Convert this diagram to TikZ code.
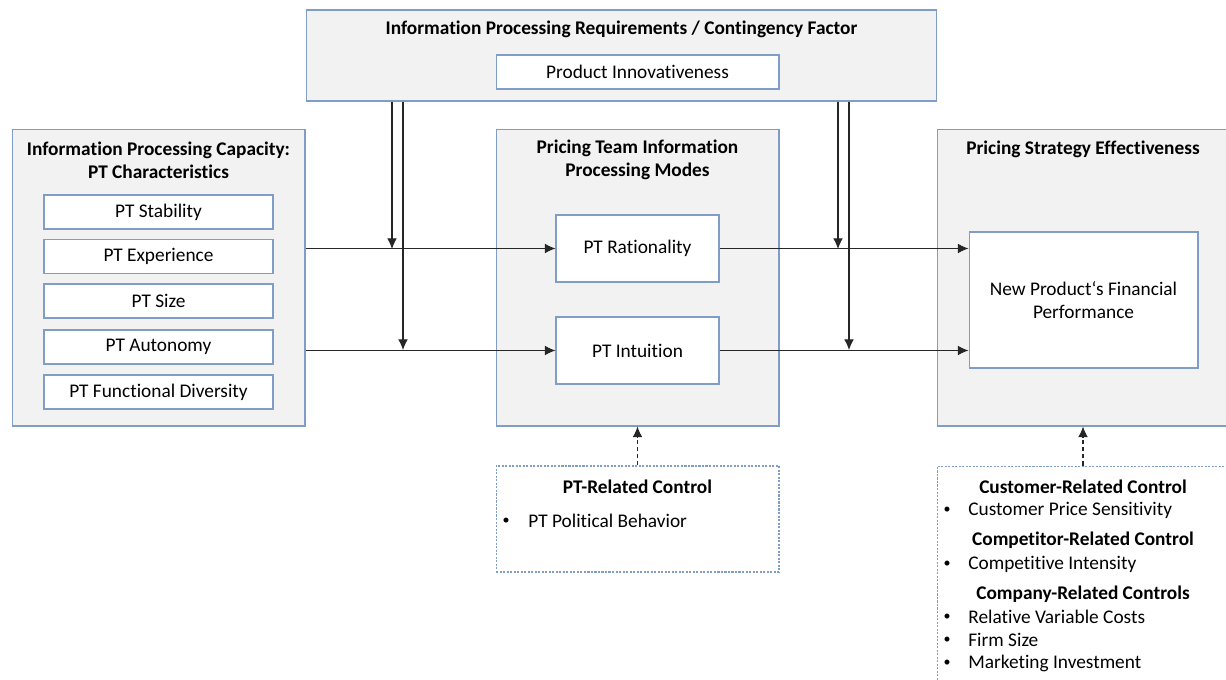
\documentclass[tikz,border=0pt]{standalone}
\usepackage{fontspec}
\setmainfont{Carlito}[Ligatures=NoCommon]
\usetikzlibrary{arrows.meta}

\definecolor{kaderblauw}{RGB}{127,157,198}
\definecolor{kadergrijs}{RGB}{242,242,242}

\begin{document}
\begin{tikzpicture}[x=0.02cm, y=-0.02cm, >={Latex[length=6pt,width=5.5pt]}]

% --- Stijlen ---
\tikzset{
    kader/.style={
        draw=kaderblauw,
        fill=kadergrijs,
        line width=0.6pt,
        inner sep=0pt
    },
    vak/.style={
        draw=kaderblauw,
        fill=white,
        line width=0.6pt,
        inner sep=0pt,
        align=center,
        font=\fontsize{11}{13}\selectfont
    },
    stipkader/.style={
        draw=kaderblauw,
        fill=white,
        line width=0.6pt,
        dash pattern=on 1.2pt off 0.8pt,
        inner sep=0pt
    },
    kop/.style={
        font=\fontsize{11}{13}\selectfont\bfseries,
        align=center,
        inner sep=0pt
    },
    tekst/.style={
        font=\fontsize{11}{13}\selectfont,
        anchor=west,
        inner sep=0pt
    },
    punt/.style={
        font=\fontsize{8}{10}\selectfont,
        inner sep=0pt
    },
    pijl/.style={
        ->,
        line width=0.6pt,
        draw=black!85
    },
    stippijl/.style={
        ->,
        line width=0.6pt,
        draw=black!85,
        dash pattern=on 2.5pt off 1.5pt
    }
}

\useasboundingbox (0,0) rectangle (1226,679);
\clip (0,0) rectangle (1226,679);

% --- Contingentiefactor ---
\node[kader, minimum width=12.62cm, minimum height=1.82cm] (eis) at (621.5,55.5) {};
\node[kop] (eiskop) at (621.5,29) {Information Processing Requirements / Contingency Factor};
\node[vak, minimum width=5.66cm, minimum height=0.68cm] (innov) at (637.5,72) {Product Innovativeness};

% --- Capaciteit ---
\node[kader, minimum width=5.86cm, minimum height=5.94cm] (cap) at (158.5,277.5) {};
\node[kop] (capkop) at (158.5,160) {Information Processing Capacity:\\PT Characteristics};
\node[vak, minimum width=4.58cm, minimum height=0.68cm] (stab) at (158.5,212)   {PT Stability};
\node[vak, minimum width=4.58cm, minimum height=0.68cm] (erv)  at (158.5,256.5) {PT Experience};
\node[vak, minimum width=4.58cm, minimum height=0.68cm] (omv)  at (158.5,301)   {PT Size};
\node[vak, minimum width=4.58cm, minimum height=0.68cm] (aut)  at (158.5,347)   {PT Autonomy};
\node[vak, minimum width=4.58cm, minimum height=0.68cm] (div)  at (158.5,392)   {PT Functional Diversity};

% --- Verwerkingsmodi ---
\node[kader, minimum width=5.66cm, minimum height=5.94cm] (modi) at (637.5,277.5) {};
\node[kop] (modikop) at (637.5,160) {Pricing Team Information\\Processing Modes};
\node[vak, minimum width=3.26cm, minimum height=1.34cm] (rat) at (637.5,248.5) {PT Rationality};
\node[vak, minimum width=3.26cm, minimum height=1.34cm] (int) at (637.5,350.5) {PT Intuition};

% --- Effectiviteit ---
\node[kader, minimum width=5.84cm, minimum height=5.94cm] (eff) at (1083,277.5) {};
\node[kop] (effkop) at (1083,149) {Pricing Strategy Effectiveness};
\node[vak, minimum width=4.58cm, minimum height=2.72cm] (fin) at (1083.5,300) {New Product‘s Financial\\Performance};

% --- Controles ---
\node[stipkader, minimum width=5.66cm, minimum height=2.12cm] (ptc) at (637.5,519) {};
\node[kop] (ptckop) at (637.5,487) {PT-Related Control};
\node[punt] at (506,521) {•};
\node[tekst] (pol) at (528,521) {PT Political Behavior};

\node[stipkader, minimum width=5.84cm, minimum height=4.68cm] (mkt) at (1083,583) {};
\node[kop] (klant) at (1083,487) {Customer-Related Control};
\node[kop] (conc)  at (1083,540) {Competitor-Related Control};
\node[kop] (bedr)  at (1083,594) {Company-Related Controls};
\foreach \y/\t in {510/Customer Price Sensitivity, 564/Competitive Intensity,
                   617/Relative Variable Costs, 640/Firm Size, 663/Marketing Investment} {
    \node[punt] at (947,\y) {•};
    \node[tekst] at (968,\y) {\t};
}

% --- Kruispunten ---
\coordinate (k1) at (392,249);
\coordinate (k2) at (403,350);
\coordinate (k3) at (838,249);
\coordinate (k4) at (849,350);

% --- Pijlen ---
\draw[pijl] (cap.east |- rat) -- (rat.west);
\draw[pijl] (cap.east |- int) -- (int.west);
\draw[pijl] (rat.east) -- (rat.east -| fin.west);
\draw[pijl] (int.east) -- (int.east -| fin.west);
\draw[pijl] (eis.south -| k1) -- (k1);
\draw[pijl] (eis.south -| k2) -- (k2);
\draw[pijl] (eis.south -| k3) -- (k3);
\draw[pijl] (eis.south -| k4) -- (k4);
\draw[stippijl] (ptc.north) -- (modi.south);
\draw[stippijl] (mkt.north) -- (eff.south);
\end{tikzpicture}
\end{document}
